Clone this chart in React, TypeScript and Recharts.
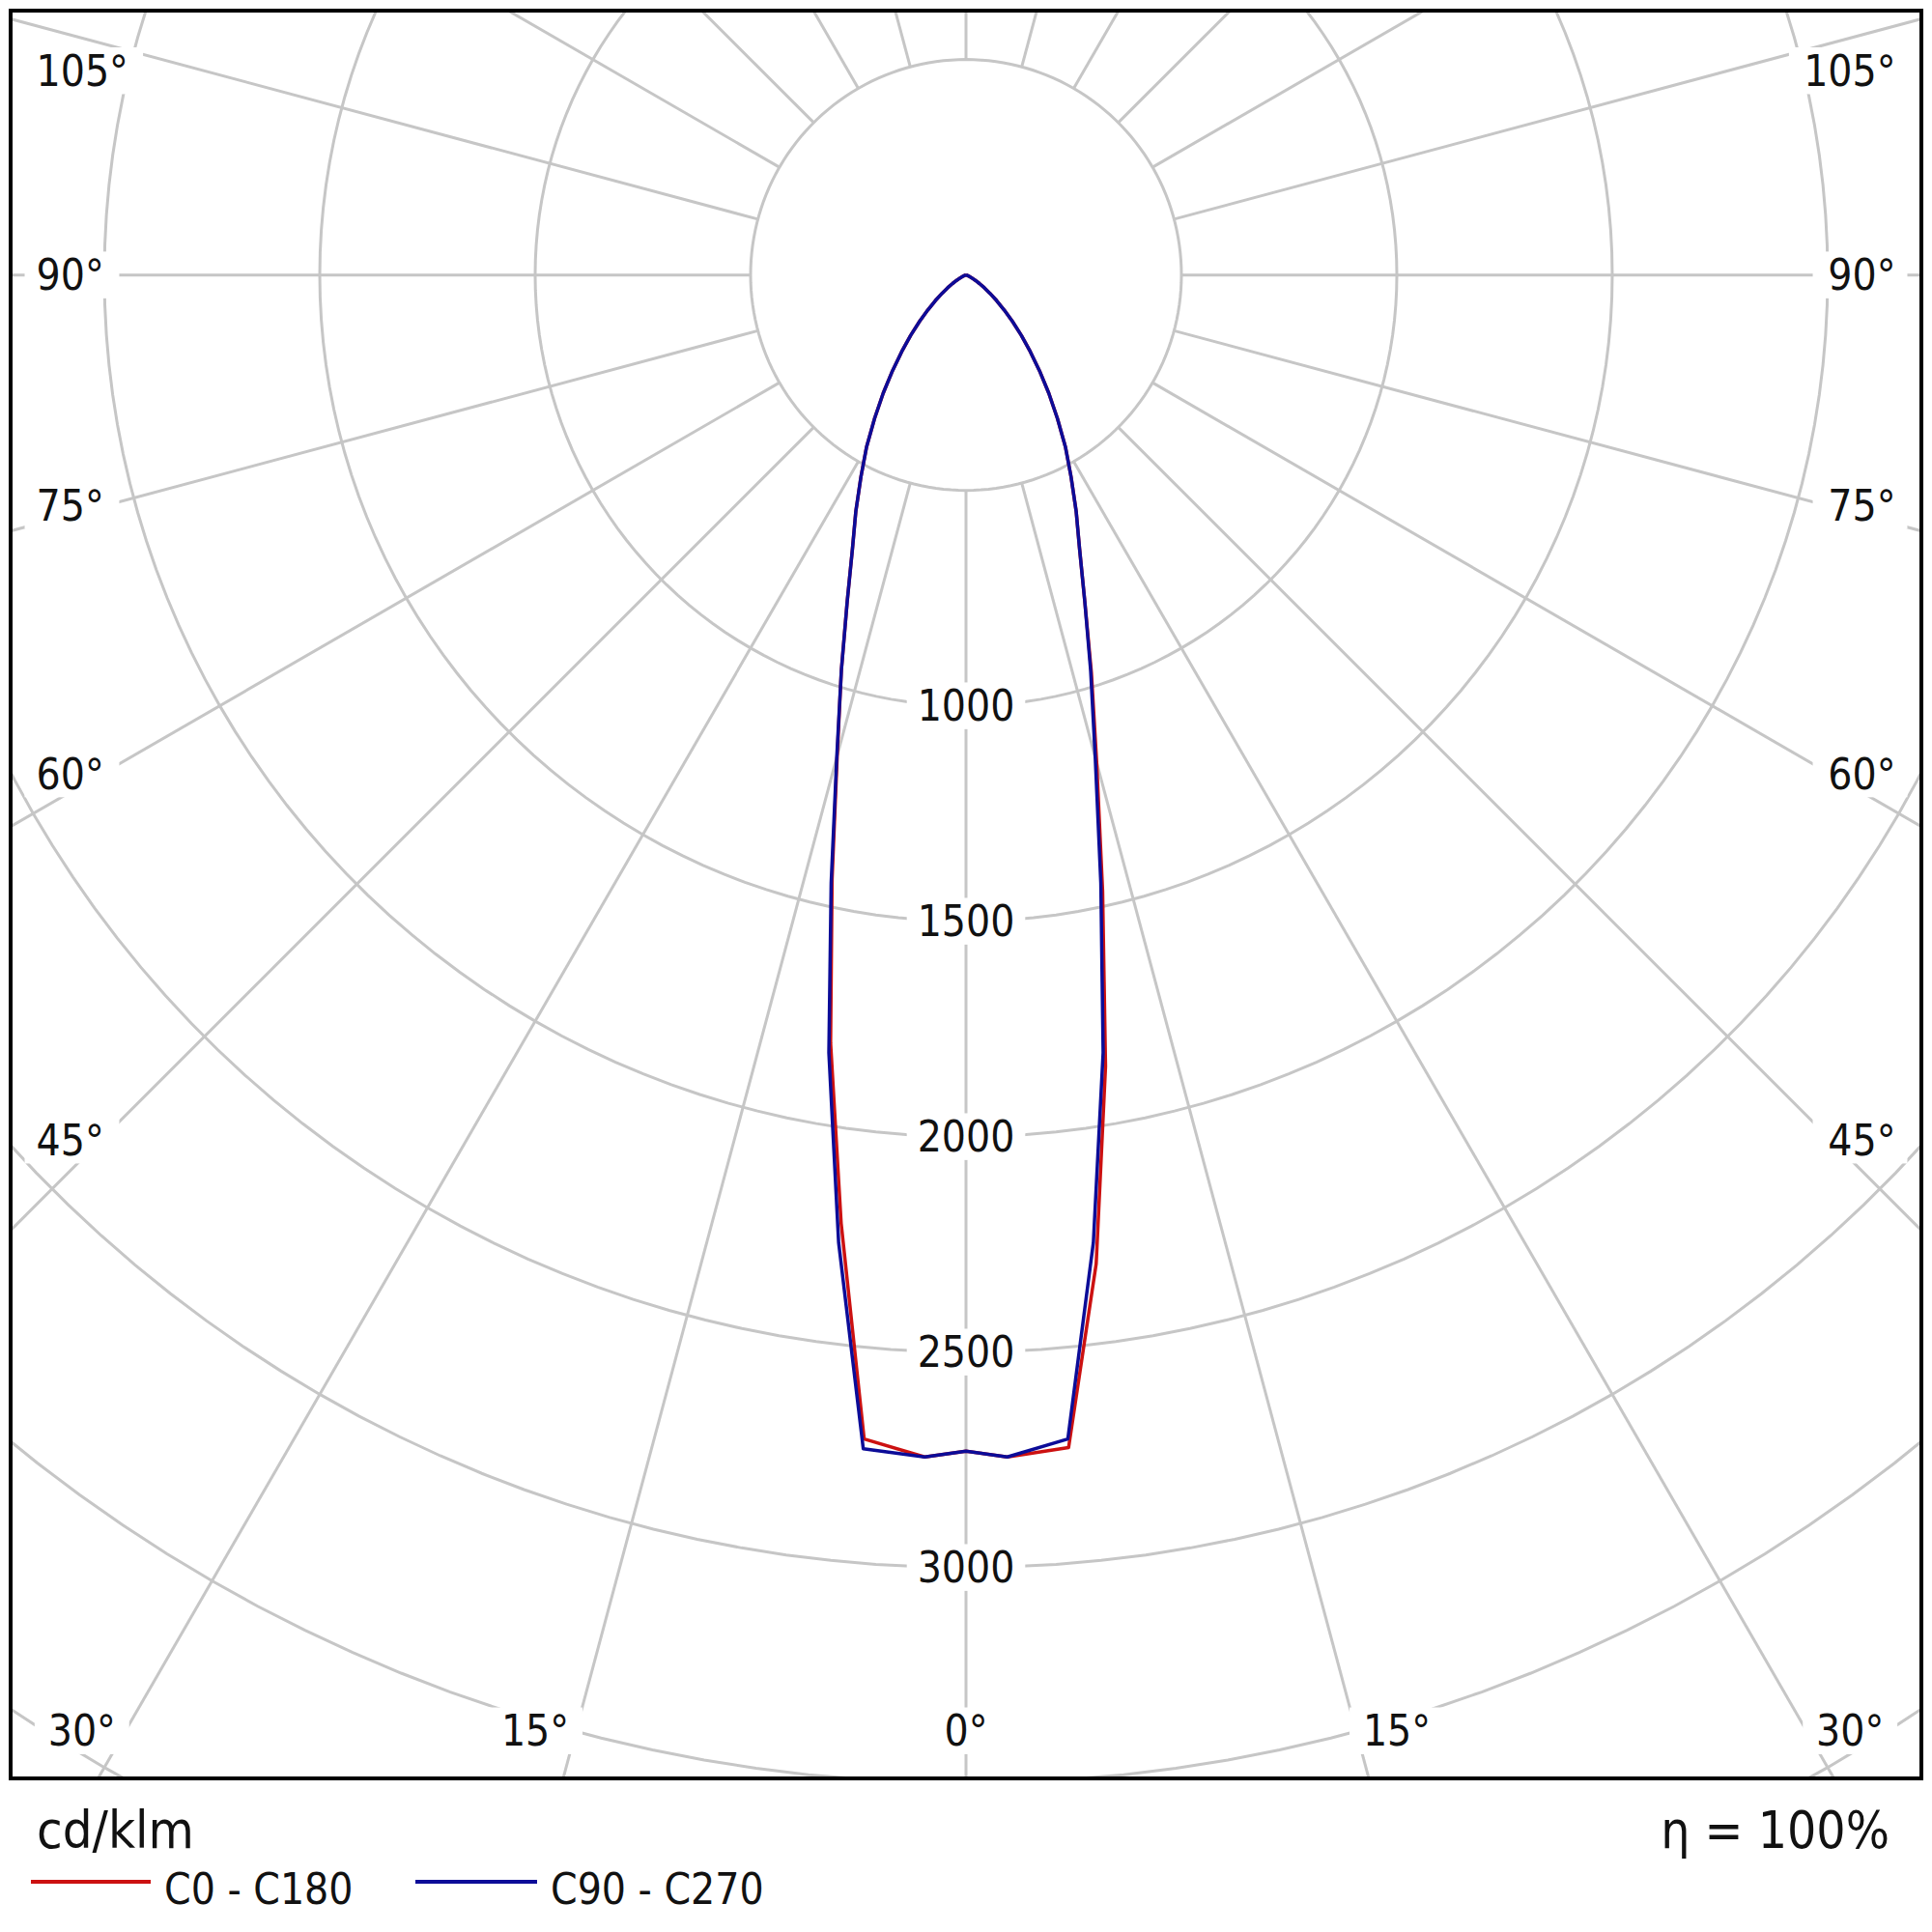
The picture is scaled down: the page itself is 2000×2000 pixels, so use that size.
import { ScatterChart, Scatter, XAxis, YAxis, ReferenceLine, ReferenceDot } from "recharts";

// gamma angles (deg, 0 = straight down) and intensities in cd/klm
const gammaAngles = [
  0, 2, 5, 7.5, 10, 12.5, 15, 17.5, 20, 22.5, 25, 27.5, 30, 32.5, 35, 37.5, 40, 42.5, 45, 47.5, 50,
  52.5, 55, 57.5, 60, 62.5, 65, 67.5, 70, 72.5, 75, 77.5, 80, 82.5, 85, 87.5, 90,
];
const c0Values = [
  2730, 2745, 2732, 2315, 1865, 1465, 1172, 968, 806, 689, 605, 528, 462, 395, 335, 280, 232, 190, 152, 120, 93,
  70, 52, 37, 25, 16, 10, 6, 3, 2, 1, 0, 0, 0, 0, 0, 0,
];
const c180Values = [
  2730, 2745, 2712, 2220, 1810, 1436, 1155, 962, 806, 689, 605, 528, 462, 395, 335, 280, 232, 190, 152, 120, 93,
  70, 52, 37, 25, 16, 10, 6, 3, 2, 1, 0, 0, 0, 0, 0, 0,
];
const c90Values = [
  2730, 2745, 2712, 2265, 1833, 1446, 1159, 962, 806, 689, 605, 528, 462, 395, 335, 280, 232, 190, 152, 120, 93,
  70, 52, 37, 25, 16, 10, 6, 3, 2, 1, 0, 0, 0, 0, 0, 0,
];
const c270Values = [
  2730, 2745, 2735, 2265, 1833, 1446, 1159, 962, 806, 689, 605, 528, 462, 395, 335, 280, 232, 190, 152, 120, 93,
  70, 52, 37, 25, 16, 10, 6, 3, 2, 1, 0, 0, 0, 0, 0, 0,
];

const intensityTicks = [1000, 1500, 2000, 2500, 3000];
const gridRadii = [500, 1000, 1500, 2000, 2500, 3000, 3500, 4000, 4500];
const spokeAngles = [0, 15, 30, 45, 60, 75, 90, 105, 120, 135, 150, 165, 180, 195, 210, 225, 240, 255, 270, 285, 300, 315, 330, 345];
const angleLabels = ["105°", "90°", "75°", "60°", "45°", "30°", "15°", "0°"];
const seriesNames = ["C0 - C180", "C90 - C270"];
const unitLabel = "cd/klm";
const efficiencyLabel = "η = 100%";

const RED = "#cc1111";
const BLUE = "#0c0c98";
const GRID = "#c6c6c6";
const FONT = "'DejaVu Sans Condensed', 'DejaVu Sans', sans-serif";

const PLOT_W = 1974;
const PLOT_H = 1826;
const X_DOMAIN: [number, number] = [-2213, 2213];
const Y_DOMAIN: [number, number] = [-3485, 609];

const rad = (deg: number) => (deg * Math.PI) / 180;

const toPoint = (gamma: number, value: number, side: number) => ({
  x: side * value * Math.sin(rad(gamma)),
  y: -value * Math.cos(rad(gamma)),
});

const buildCurve = (left: number[], right: number[]) => [
  ...gammaAngles.map((g, i) => toPoint(g, left[i], -1)).reverse(),
  ...gammaAngles.map((g, i) => toPoint(g, right[i], 1)),
];

const circleSteps = Array.from({ length: 181 }, (_, i) => i * 2);
const circlePoints = (r: number) => circleSteps.map((a) => ({ x: r * Math.sin(rad(a)), y: r * Math.cos(rad(a)) }));

const curveC0 = buildCurve(c180Values, c0Values);
const curveC90 = buildCurve(c270Values, c90Values);

// where the angle labels sit, in cd units (index matches angleLabels)
const sideLabelY = [474, 0, -535, -1158, -2008];
const bottomLabelX: Record<string, number> = { "30°": 2052, "15°": 1000, "0°": 0 };
const BOTTOM_Y = -3379;
const SIDE_X = 2158;

type TagProps = { viewBox?: any; text: string; anchor: "start" | "middle" | "end"; fontSize: number };

const Tag = ({ viewBox, text, anchor, fontSize }: TagProps) => {
  if (!viewBox) return null;
  const cx = viewBox.x + (viewBox.width || 0) / 2;
  const cy = viewBox.y + (viewBox.height || 0) / 2;
  const w = text.length * fontSize * 0.56;
  const pad = 12;
  const left = anchor === "start" ? cx : anchor === "end" ? cx - w : cx - w / 2;
  return (
    <g>
      <rect x={left - pad} y={cy - fontSize * 0.55} width={w + pad * 2} height={fontSize * 1.1} fill="#fff" />
      <text
        x={cx}
        y={cy}
        textAnchor={anchor}
        dominantBaseline="central"
        fontFamily={FONT}
        fontSize={fontSize}
        fill="#111"
      >
        {text}
      </text>
    </g>
  );
};

const noShape = () => <g />;

const PolarChart = () => {
  const angleSpots: { text: string; x: number; y: number; anchor: "start" | "middle" | "end" }[] = [];
  angleLabels.slice(0, 5).forEach((t, i) => {
    angleSpots.push({ text: t, x: -SIDE_X, y: sideLabelY[i], anchor: "start" });
    angleSpots.push({ text: t, x: SIDE_X, y: sideLabelY[i], anchor: "end" });
  });
  angleLabels.slice(5).forEach((t) => {
    const bx = bottomLabelX[t];
    angleSpots.push({ text: t, x: -bx, y: BOTTOM_Y, anchor: "middle" });
    if (bx !== 0) angleSpots.push({ text: t, x: bx, y: BOTTOM_Y, anchor: "middle" });
  });

  return (
    <ScatterChart width={PLOT_W} height={PLOT_H} margin={{ top: 0, right: 0, bottom: 0, left: 0 }}>
      <XAxis type="number" dataKey="x" domain={X_DOMAIN} hide allowDataOverflow />
      <YAxis type="number" dataKey="y" domain={Y_DOMAIN} hide allowDataOverflow />
      {gridRadii.map((r) => (
        <Scatter
          key={`ring-${r}`}
          data={circlePoints(r)}
          fill="none"
          stroke={GRID}
          line={{ stroke: GRID, strokeWidth: 3 }}
          lineType="joint"
          shape={noShape}
          isAnimationActive={false}
        />
      ))}
      {spokeAngles.map((a) => (
        <ReferenceLine
          key={`spoke-${a}`}
          segment={[
            { x: 500 * Math.sin(rad(a)), y: -500 * Math.cos(rad(a)) },
            { x: 5000 * Math.sin(rad(a)), y: -5000 * Math.cos(rad(a)) },
          ]}
          stroke={GRID}
          strokeWidth={3}
          ifOverflow="hidden"
        />
      ))}
      <Scatter
        name={seriesNames[0]}
        data={curveC0}
        fill="none"
        stroke={RED}
        line={{ stroke: RED, strokeWidth: 3.5, strokeLinejoin: "round" }}
        lineType="joint"
        shape={noShape}
        isAnimationActive={false}
      />
      <Scatter
        name={seriesNames[1]}
        data={curveC90}
        fill="none"
        stroke={BLUE}
        line={{ stroke: BLUE, strokeWidth: 3.5, strokeLinejoin: "round" }}
        lineType="joint"
        shape={noShape}
        isAnimationActive={false}
      />
      {intensityTicks.map((v) => (
        <ReferenceDot
          key={`tick-${v}`}
          x={0}
          y={-v}
          r={0}
          fill="none"
          stroke="none"
          label={(p: any) => <Tag viewBox={p.viewBox} text={String(v)} anchor="middle" fontSize={44} />}
        />
      ))}
      {angleSpots.map((s, i) => (
        <ReferenceDot
          key={`ang-${i}`}
          x={s.x}
          y={s.y}
          r={0}
          fill="none"
          stroke="none"
          label={(p: any) => <Tag viewBox={p.viewBox} text={s.text} anchor={s.anchor} fontSize={44} />}
        />
      ))}
    </ScatterChart>
  );
};

export default function App() {
  return (
    <div style={{ position: "absolute", left: 0, top: 0, width: 2000, height: 2000, background: "#fff" }}>
      <svg width={2000} height={2000} style={{ position: "absolute", left: 0, top: 0 }}>
        <text x={38} y={1913} fontFamily={FONT} fontSize={54} fill="#111">
          {unitLabel}
        </text>
        <text x={1956} y={1913} fontFamily={FONT} fontSize={53} fill="#111" textAnchor="end">
          {efficiencyLabel}
        </text>
        <line x1={32} y1={1948} x2={156} y2={1948} stroke={RED} strokeWidth={4} />
        <text x={170} y={1971} fontFamily={FONT} fontSize={44} fill="#111">
          {seriesNames[0]}
        </text>
        <line x1={430} y1={1948} x2={556} y2={1948} stroke={BLUE} strokeWidth={4} />
        <text x={570} y={1971} fontFamily={FONT} fontSize={44} fill="#111">
          {seriesNames[1]}
        </text>
      </svg>
      <div
        style={{
          position: "absolute",
          left: 9,
          top: 9,
          width: PLOT_W,
          height: PLOT_H,
          border: "4px solid #000",
          background: "#fff",
        }}
      >
        <PolarChart />
      </div>
    </div>
  );
}
